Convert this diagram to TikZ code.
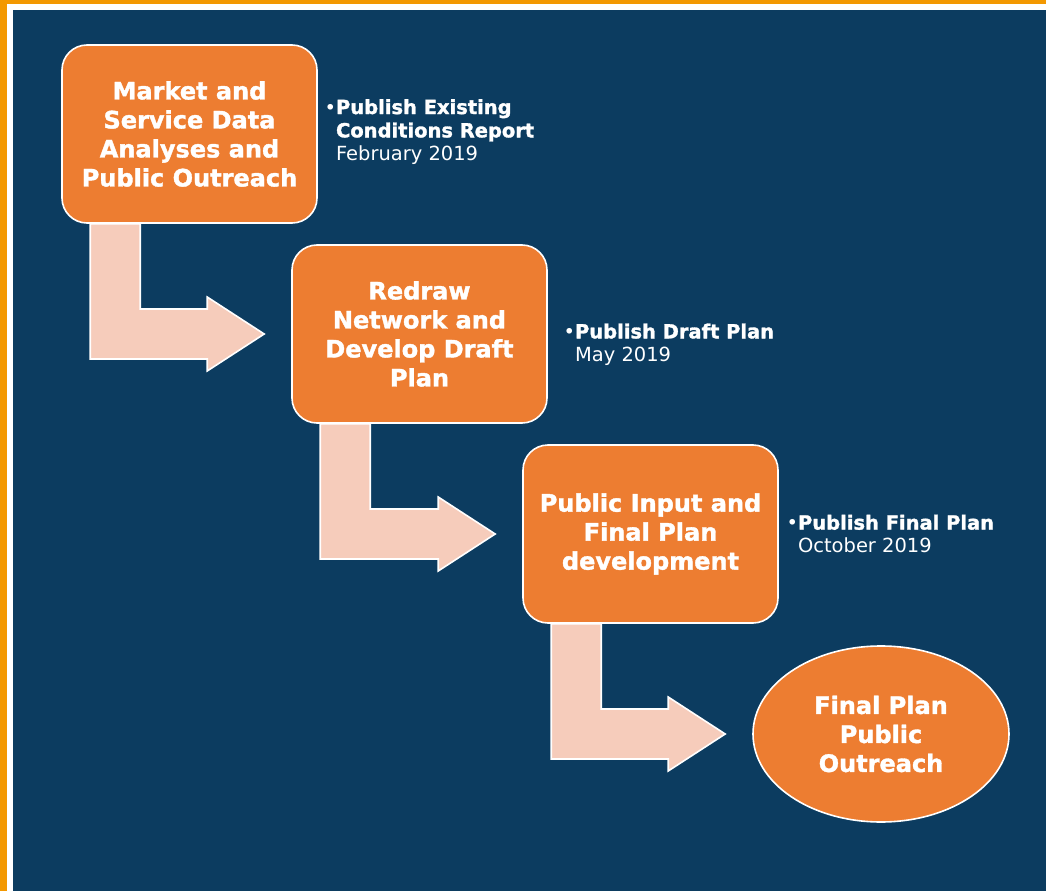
\documentclass[tikz,border=0pt]{standalone}
\usepackage{fontspec}
\setmainfont{DejaVu Sans}[BoldFeatures={FakeBold=1.5}]
\usetikzlibrary{positioning,calc,shapes.geometric}
\definecolor{framegold}{RGB}{243,152,0}
\definecolor{navyback}{RGB}{12,60,96}
\definecolor{stepfill}{RGB}{237,125,49}
\definecolor{peach}{RGB}{246,204,187}

% bent block arrow from the foot of one box to the side of the next
\newcommand{\bendarrow}[2]{%
	\coordinate (root) at ($(#1.south west)+(29,0)$);
	\coordinate (tip) at ($(#2.west)+(-27,0)$);
	\draw[bentarrow] (root) -- ++(50,0) |- ($(tip)+(-57,25)$) -- ($(tip)+(-57,37)$) -- (tip)
		-- ($(tip)+(-57,-37)$) -- ($(tip)+(-57,-25)$) -| (root) -- cycle;}

\begin{document}
\begin{tikzpicture}[x=0.75pt, y=0.75pt,
	stepbox/.style={draw=white, line width=1.2pt, fill=stepfill, rounded corners=18.75pt,
		minimum width=191.25pt, minimum height=133.5pt, inner sep=0pt, text=white,
		align=center, font=\fontsize{18}{21.75}\selectfont\bfseries},
	endbox/.style={stepbox, ellipse, sharp corners, minimum width=192pt, minimum height=132pt},
	note/.style={text=white, align=left, inner sep=0pt, font=\fontsize{14.6}{17.5}\selectfont},
	bentarrow/.style={draw=white, line width=1.2pt, fill=peach}]
			
			% FRAME AND BACKGROUND
			\useasboundingbox (0,0) rectangle (1046,-891);
			\fill[framegold] (0,0) rectangle (1046,-891);
			\fill[white] (7,-4) rectangle (1046,-891);
			\fill[navyback] (13,-10) rectangle (1046,-891);
			
			% STEP 1: ANALYSES
			\node[stepbox] (m1) at (189.5,-134) {Market and\\Service Data\\Analyses and\\Public Outreach};
			\node[note, right=13.5pt of m1, yshift=1.5pt] (n1) {\llap{\textbullet}\textbf{Publish Existing}\\\textbf{Conditions Report}\\February 2019};
			
			% STEP 2: DRAFT PLAN
			\node[stepbox] (m2) at (419.5,-334) {Redraw\\Network and\\Develop Draft\\Plan};
			\node[note, right=20.25pt of m2, yshift=-8pt] (n2) {\llap{\textbullet}\textbf{Publish Draft Plan}\\May 2019};
			
			% STEP 3: FINAL PLAN
			\node[stepbox] (m3) at (650.5,-534) {Public Input and\\Final Plan\\development};
			\node[note, right=14.25pt of m3] (n3) {\llap{\textbullet}\textbf{Publish Final Plan}\\October 2019};
			
			% STEP 4: OUTREACH
			\node[endbox] (m4) at (881,-734) {Final Plan\\Public\\Outreach};
			
			% ARROWS
			\bendarrow{m1}{m2}
			\bendarrow{m2}{m3}
			\bendarrow{m3}{m4}
			
		\end{tikzpicture}
\end{document}
